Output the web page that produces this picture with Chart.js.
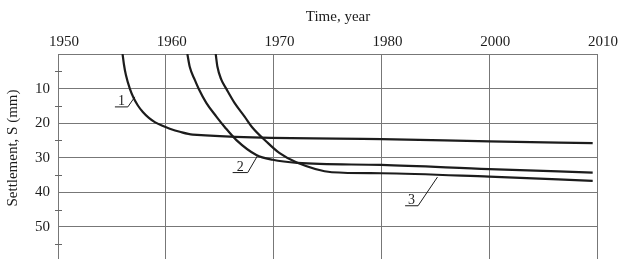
<!DOCTYPE html>
<html>
<head>
<meta charset="utf-8">
<script src="https://cdn.jsdelivr.net/npm/chart.js@4.4.1/dist/chart.umd.min.js"></script>
<style>
  html, body { margin: 0; padding: 0; background: #fff; }
  canvas { display: block; }
</style>
</head>
<body>
<canvas id="settlementChart" width="619" height="259"></canvas>
<script>
// Eixo do tempo (não linear: 1980 -> 2000 ocupa o mesmo espaço que 10 anos)
const X_TICKS = ["1950", "1960", "1970", "1980", "2000", "2010"];
const YEAR_BREAKS = [1950, 1960, 1970, 1980, 2000, 2010];
const Y_TICKS = [10, 20, 30, 40, 50];
const Y_MINOR_TICKS = [5, 15, 25, 35, 45, 55];

// Curva 1
const YEARS_1 = [1955.99, 1956.11, 1956.3, 1956.67, 1957.04, 1957.41, 1957.87, 1958.43, 1958.98, 1959.63, 1960.37, 1961.3, 1962.5, 1980, 2000, 2009.6];
const S_1 = [0, 2.9, 6.1, 10.1, 12.9, 14.9, 16.8, 18.5, 19.7, 20.7, 21.6, 22.5, 23.3, 24.6, 25.3, 25.8];

// Curva 2
const YEARS_2 = [1962.0, 1962.22, 1962.69, 1963.06, 1963.77, 1964.69, 1965.46, 1966.55, 1968.4, 1969.91, 1972.21, 1980, 2000, 2009.6];
const S_2 = [0, 3.7, 7.5, 10.1, 14.2, 18.1, 21.1, 24.9, 29.2, 30.6, 31.5, 32.1, 33.3, 34.3];

// Curva 3
const YEARS_3 = [1964.63, 1964.79, 1965.16, 1965.62, 1966.39, 1967.31, 1967.99, 1969.32, 1970.56, 1972.15, 1975.4, 1980, 2000, 2009.6];
const S_3 = [0, 3.7, 7.5, 10.1, 14.2, 18.1, 21.1, 25.3, 28.7, 31.4, 34.2, 34.5, 35.5, 36.7];

// Rótulos das curvas (texto, início/fim do traço, ponta da seta)
const CURVE_LABELS = ["1", "2", "3"];
const LABEL_LINE_START = [1955.28, 1966.2, 1984.4];
const LABEL_LINE_END = [1956.48, 1967.6, 1986.8];
const LABEL_LINE_S = [15.3, 34.3, 43.9];
const LABEL_TIP_YEAR = [1957.13, 1968.55, 1990.4];
const LABEL_TIP_S = [12.4, 29.2, 35.6];

const FONT = "'Liberation Serif', 'Times New Roman', serif";
const INK = "#1c1c1c";

/**
 * Converte ano para a unidade do eixo (0..5), trecho a trecho.
 */
function yearToUnit(year) {
  for (let i = 0; i < YEAR_BREAKS.length - 1; i++) {
    if (year <= YEAR_BREAKS[i + 1] || i === YEAR_BREAKS.length - 2) {
      return i + (year - YEAR_BREAKS[i]) / (YEAR_BREAKS[i + 1] - YEAR_BREAKS[i]);
    }
  }
  return 0;
}

function toPoints(years, values) {
  return years.map((yr, i) => ({ x: yearToUnit(yr), y: values[i] }));
}

function curveDataset(years, values) {
  return {
    data: toPoints(years, values),
    borderColor: INK,
    borderWidth: 2.2,
    pointRadius: 0,
    fill: false,
    cubicInterpolationMode: "monotone",
  };
}

// Desenha títulos, marcas menores do eixo Y e rótulos das curvas
const decorPlugin = {
  id: "decor",
  afterDraw(chart) {
    const { ctx, scales } = chart;
    const xs = scales.x;
    const ys = scales.y;
    const left = chart.chartArea.left;

    ctx.save();
    ctx.strokeStyle = "#666";
    ctx.lineWidth = 1;
    Y_MINOR_TICKS.forEach((v) => {
      const py = Math.round(ys.getPixelForValue(v)) + 0.5;
      ctx.beginPath();
      ctx.moveTo(left - 3, py);
      ctx.lineTo(left + 4, py);
      ctx.stroke();
    });

    ctx.fillStyle = INK;
    ctx.font = "15px " + FONT;
    ctx.textAlign = "center";
    ctx.textBaseline = "alphabetic";
    ctx.fillText("Time, year", 338, 21);

    ctx.save();
    ctx.translate(17, 148);
    ctx.rotate(-Math.PI / 2);
    ctx.fillText("Settlement, S (mm)", 0, 0);
    ctx.restore();

    ctx.strokeStyle = INK;
    ctx.lineWidth = 1;
    ctx.font = "14px " + FONT;
    CURVE_LABELS.forEach((txt, i) => {
      const x0 = xs.getPixelForValue(yearToUnit(LABEL_LINE_START[i]));
      const x1 = xs.getPixelForValue(yearToUnit(LABEL_LINE_END[i]));
      const y0 = ys.getPixelForValue(LABEL_LINE_S[i]);
      const x2 = xs.getPixelForValue(yearToUnit(LABEL_TIP_YEAR[i]));
      const y2 = ys.getPixelForValue(LABEL_TIP_S[i]);
      ctx.beginPath();
      ctx.moveTo(x0, y0);
      ctx.lineTo(x1, y0);
      ctx.lineTo(x2, y2);
      ctx.stroke();
      ctx.fillText(txt, (x0 + x1) / 2, y0 - 2);
    });
    ctx.restore();
  },
};

function initSettlementChart() {
  const ctx = document.getElementById("settlementChart");

  new Chart(ctx, {
    type: "line",
    data: {
      datasets: [
        curveDataset(YEARS_1, S_1),
        curveDataset(YEARS_2, S_2),
        curveDataset(YEARS_3, S_3),
      ],
    },
    options: {
      responsive: false,
      animation: false,
      layout: { padding: { left: 0, top: 0, right: 22, bottom: 0 } },
      plugins: {
        legend: { display: false },
        tooltip: { enabled: false },
      },
      scales: {
        x: {
          type: "linear",
          position: "top",
          min: 0,
          max: X_TICKS.length - 1,
          afterFit: (scale) => {
            scale.height = 54;
            scale.paddingLeft = 0;
            scale.paddingRight = 0;
          },
          grid: { color: "#777", lineWidth: 1, drawTicks: false },
          border: { color: "#777" },
          ticks: {
            stepSize: 1,
            padding: 3,
            labelOffset: 6,
            color: INK,
            font: { family: FONT, size: 15 },
            callback: (v) => X_TICKS[v],
          },
        },
        y: {
          type: "linear",
          reverse: true,
          min: 0,
          max: 59.3,
          afterBuildTicks: (scale) => {
            scale.ticks = [0].concat(Y_TICKS).map((v) => ({ value: v }));
          },
          afterFit: (scale) => {
            scale.width = 58;
            scale.paddingTop = 0;
            scale.paddingBottom = 0;
          },
          grid: { color: "#777", lineWidth: 1, drawTicks: false },
          border: { color: "#777" },
          ticks: {
            padding: 8,
            color: INK,
            font: { family: FONT, size: 15 },
            callback: (v) => (v === 0 ? "" : v),
          },
        },
      },
    },
    plugins: [decorPlugin],
  });
}

initSettlementChart();
</script>
</body>
</html>
